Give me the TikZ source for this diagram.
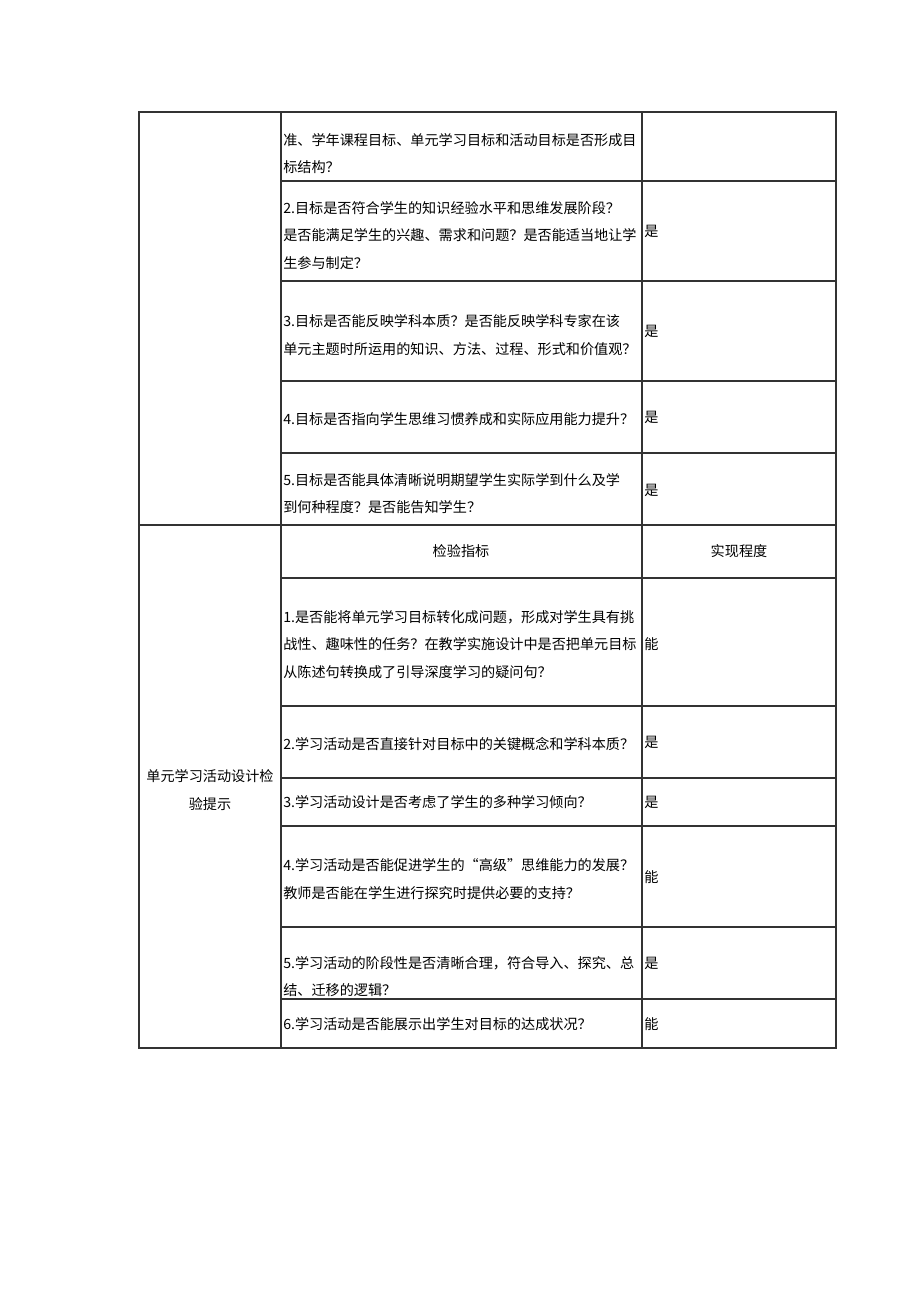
\documentclass[tikz,border=0pt]{standalone}
\usepackage{fontspec}
\newfontfamily\cjk{Noto Sans CJK SC}

\begin{document}
\begin{tikzpicture}[x = 0.75pt, y = -0.75pt,
	cell/.style = {anchor = west, align = left, inner sep = 0pt, font = \cjk\fontsize{10.6}{20.7}\selectfont},
	head/.style = {cell, anchor = center, align = center},
	grid/.style = {draw = black!80, line width = 0.8pt}]
	\useasboundingbox (0,0) rectangle (920,1301);
	% table lines
	\draw[grid] (139,112) rectangle (836,1048);
	\draw[grid] (281,112) -- (281,1048) (642,112) -- (642,1048);
	\foreach \y in {181,281,381,453,578,706,778,826,927,999}
		\draw[grid] (281,\y) -- (836,\y);
	\draw[grid] (139,525) -- (836,525);
	
	% upper part
	\node[cell] (Q1) at (283,153.5) {准、学年课程目标、单元学习目标和活动目标是否形成目\\标结构？};
	\node[cell] (Q2) at (283,235.5) {2.目标是否符合学生的知识经验水平和思维发展阶段？\\是否能满足学生的兴趣、需求和问题？是否能适当地让学\\生参与制定？};
	\node[cell] (A2) at (644,231) {是};
	\node[cell] (Q3) at (283,335) {3.目标是否能反映学科本质？是否能反映学科专家在该\\单元主题时所运用的知识、方法、过程、形式和价值观？};
	\node[cell] (A3) at (644,331) {是};
	\node[cell] (Q4) at (283,419) {4.目标是否指向学生思维习惯养成和实际应用能力提升？};
	\node[cell] (A4) at (644,417) {是};
	\node[cell] (Q5) at (283,493.5) {5.目标是否能具体清晰说明期望学生实际学到什么及学\\到何种程度？是否能告知学生？};
	\node[cell] (A5) at (644,490) {是};
	
	% lower part
	\node[head] (H1) at (461,551) {检验指标};
	\node[head] (H2) at (739,551) {实现程度};
	\node[head] (T) at (210,790) {单元学习活动设计检\\验提示};
	\node[cell] (P1) at (283,644.5) {1.是否能将单元学习目标转化成问题，形成对学生具有挑\\战性、趣味性的任务？在教学实施设计中是否把单元目标\\从陈述句转换成了引导深度学习的疑问句？};
	\node[cell] (B1) at (644,644) {能};
	\node[cell] (P2) at (283,744) {2.学习活动是否直接针对目标中的关键概念和学科本质？};
	\node[cell] (B2) at (644,742) {是};
	\node[cell] (P3) at (283,802) {3.学习活动设计是否考虑了学生的多种学习倾向？};
	\node[cell] (B3) at (644,802) {是};
	\node[cell] (P4) at (283,879) {4.学习活动是否能促进学生的“高级”思维能力的发展？\\教师是否能在学生进行探究时提供必要的支持？};
	\node[cell] (B4) at (644,877) {能};
	\node[cell] (P5) at (283,976.5) {5.学习活动的阶段性是否清晰合理，符合导入、探究、总\\结、迁移的逻辑？};
	\node[cell] (B5) at (644,963) {是};
	\node[cell] (P6) at (283,1024) {6.学习活动是否能展示出学生对目标的达成状况？};
	\node[cell] (B6) at (644,1024) {能};
\end{tikzpicture}
\end{document}
